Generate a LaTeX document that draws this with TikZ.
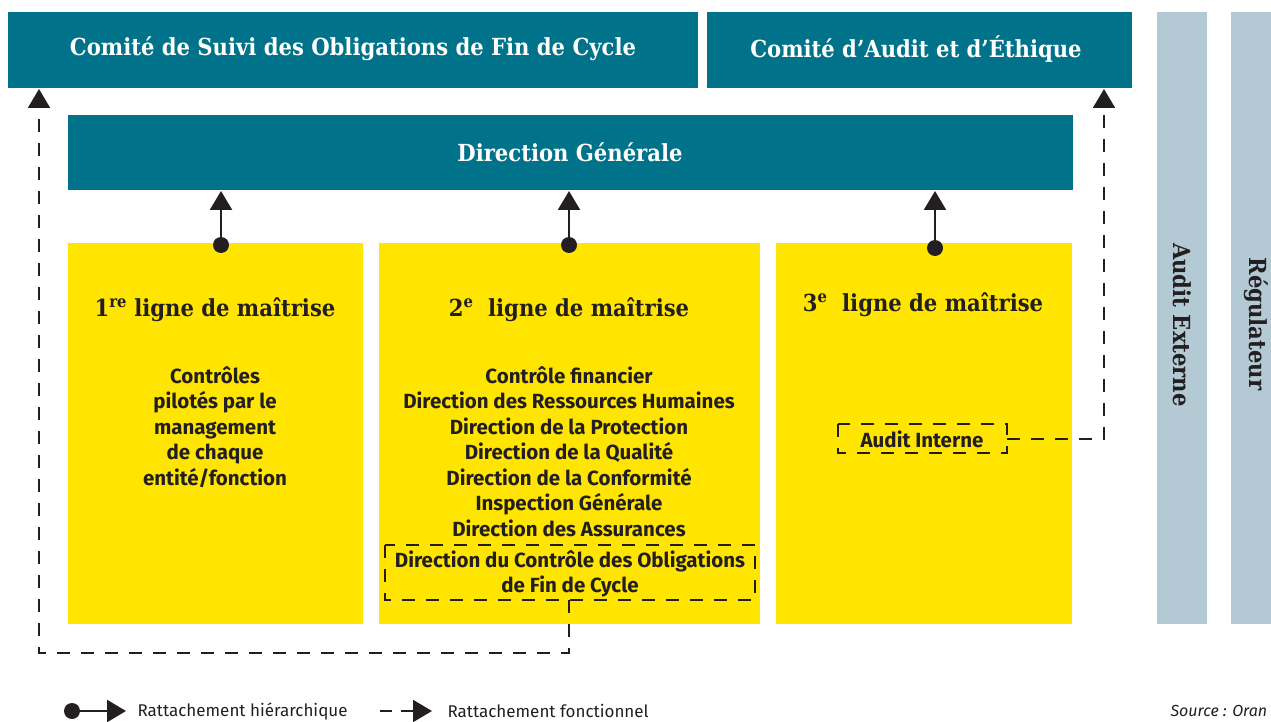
\documentclass[tikz,border=0pt]{standalone}
\usepackage{fontspec}
\setmainfont{Fira Sans}
\newfontfamily\slab{DejaVu Serif Condensed}
\usetikzlibrary{arrows.meta}
\definecolor{teal}{HTML}{00728A}
\definecolor{yel}{HTML}{FFE500}
\definecolor{grayblue}{HTML}{B3CAD4}
\definecolor{ink}{HTML}{231F20}
\tikzset{
  tealbox/.style={fill=teal, draw=none, text=white, font=\slab\bfseries\fontsize{23.5}{26}\selectfont},
  yelbox/.style={fill=yel, draw=none},
  sidebar/.style={fill=grayblue, draw=none},
  head/.style={text=ink, font=\slab\bfseries\fontsize{23.5}{26}\selectfont},
  body/.style={text=ink, font=\bfseries\fontsize{20.5}{25.5}\selectfont, align=center},
  hier/.style={draw=ink, line width=2.4pt, -{Triangle[width=22pt,length=19pt]}},
  dot/.style={circle, fill=ink, inner sep=0pt, minimum size=16pt},
  fonc/.style={draw=ink, line width=2pt, dash pattern=on 13pt off 11pt},
  foncarrow/.style={fonc, -{Triangle[width=22pt,length=19pt]}},
  dbox/.style={draw=ink, line width=2pt, dash pattern=on 13pt off 11pt},
  legend/.style={text=ink, font=\fontsize{17}{20}\selectfont, anchor=west},
}
\begin{document}
\begin{tikzpicture}[x=1pt,y=-1pt]
\useasboundingbox (0,0) rectangle (1271,722);
% top boxes
\path[tealbox] (8,12) rectangle (698,88);
\node[tealbox, fill=none] (cso) at (353,49) {Comité de Suivi des Obligations de Fin de Cycle};
\path[tealbox] (707,12) rectangle (1132,88);
\node[tealbox, fill=none] (cae) at (916,49) {Comité d’Audit et d’Éthique};
\path[tealbox] (68,115) rectangle (1073,190);
\node[tealbox, fill=none] (dg) at (570,152) {Direction Générale};
% side bars
\path[sidebar] (1157,12) rectangle (1207,624);
\path[sidebar] (1231,12) rectangle (1271,624);
\node[head, rotate=-90] (ae) at (1182,325) {Audit Externe};
\node[head, rotate=-90] (reg) at (1256,324) {Régulateur};
% yellow boxes
\path[yelbox] (68,243) rectangle (363,624);
\path[yelbox] (379,243) rectangle (760,624);
\path[yelbox] (776,243) rectangle (1072,624);
\node[head] (l1) at (215,310) {1\textsuperscript{re} ligne de maîtrise};
\node[head] (l2) at (569,310) {2\textsuperscript{e}\ \ ligne de maîtrise};
\node[head] (l3) at (923,305) {3\textsuperscript{e}\ \ ligne de maîtrise};
\node[body, anchor=north] (b1) at (215,363) {Contrôles\\pilotés par le\\management\\de chaque\\entité/fonction};
\node[body, anchor=north] (b2) at (569,363) {Contrôle financier\\Direction des Ressources Humaines\\Direction de la Protection\\Direction de la Qualité\\Direction de la Conformité\\Inspection Générale\\Direction des Assurances};
\node[body, anchor=north] (b2b) at (570,547) {Direction du Contrôle des Obligations\\de Fin de Cycle};
\node[body] (ai) at (922,439) {Audit Interne};
% dashed boxes
\draw[dbox] (385,545) rectangle (755,600);
\draw[dbox] (838,424) rectangle (1007,453);
\coordinate (dbbot) at (569,600);
\coordinate (aiR) at (1007,439);
% hierarchical arrows
\node[dot] (d1) at (221,245) {};
\node[dot] (d2) at (569,245) {};
\node[dot] (d3) at (935,248) {};
\draw[hier] (d1.center) -- (221,191);
\draw[hier] (d2.center) -- (569,191);
\draw[hier] (d3.center) -- (935,191);
% functional arrows
\draw[foncarrow] (dbbot) -- (569,653) -- (39,653) -- (39,89);
\draw[foncarrow] (aiR) -- (1104,439) -- (1104,89);
% legend
\node[dot] (ld) at (72,711) {};
\coordinate (le) at (126,711);
\draw[hier] (ld.center) -- (le);
\node[legend] (lt1) at (134,711) {Rattachement hiérarchique};
\coordinate (lf1) at (380,711);
\coordinate (lf2) at (432,711);
\draw[fonc, -{Triangle[width=22pt,length=19pt]}, dash pattern=on 12pt off 9pt] (lf1) -- (lf2);
\node[legend] (lt2) at (444,711) {Rattachement fonctionnel};
\node[legend, font=\itshape\fontsize{16}{20}\selectfont] (src) at (1167,711) {Source : Oran};
\end{tikzpicture}
\end{document}
